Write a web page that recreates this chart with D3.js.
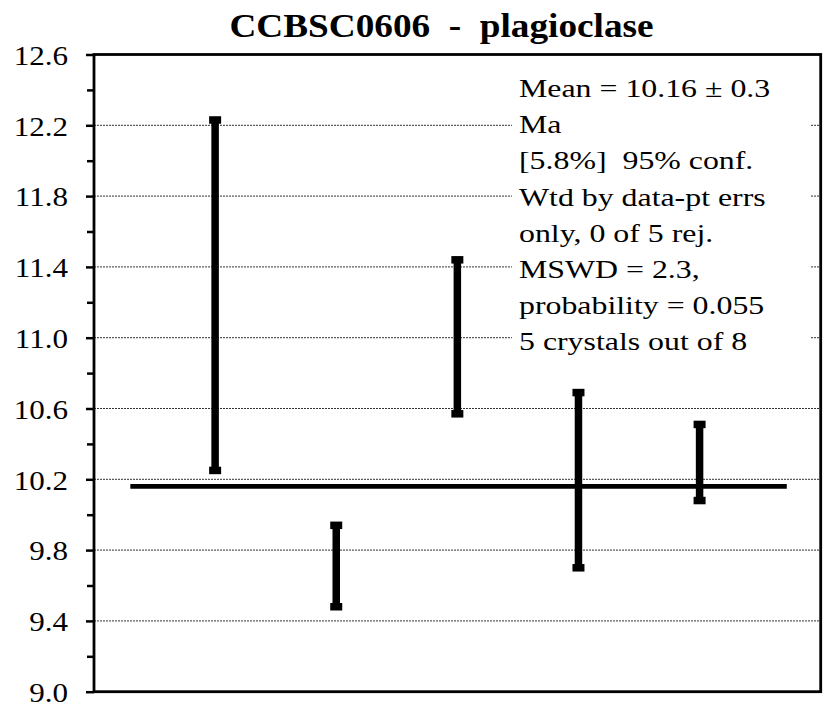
<!DOCTYPE html>
<html>
<head>
<meta charset="utf-8">
<script src="https://cdn.jsdelivr.net/npm/d3@7"></script>
<style>
  html, body { margin: 0; padding: 0; background: #fff; }
  svg { display: block; }
  text { font-family: "Liberation Serif", "Times New Roman", serif; fill: #000; }
</style>
</head>
<body>
<svg id="chart" width="823" height="708"></svg>
<script>
// Weighted-mean plot of plagioclase ages (Ma) with 2-sigma error bars
const crystals = [1, 2, 3, 4, 5];
const lowerAge = [10.25, 9.48, 10.57, 9.70, 10.08];
const upperAge = [12.23, 9.94, 11.44, 10.69, 10.51];
const meanAge = 10.16;
const meanSpan = [0.3, 5.72];
const yMajorTicks = [9.0, 9.4, 9.8, 10.2, 10.6, 11.0, 11.4, 11.8, 12.2, 12.6];
const yMinorTicks = [9.2, 9.6, 10.0, 10.4, 10.8, 11.2, 11.6, 12.0, 12.4];
const titleText = "CCBSC0606  -  plagioclase";
const statsLines = [
  "Mean = 10.16 \u00b1 0.3",
  "Ma",
  "[5.8%]  95% conf.",
  "Wtd by data-pt errs",
  "only, 0 of 5 rej.",
  "MSWD = 2.3,",
  "probability = 0.055",
  "5 crystals out of 8"
];

const svg = d3.select("#chart");
const plot = { left: 94, top: 54.5, right: 820.7, bottom: 691.7 };

const x = d3.scaleLinear().domain([0, 6]).range([plot.left, plot.right]);
const y = d3.scaleLinear().domain([9.0, 12.6]).range([plot.bottom, plot.top]);

// dotted horizontal gridlines
svg.append("g")
  .selectAll("line")
  .data(yMajorTicks.slice(1, -1))
  .join("line")
  .attr("x1", plot.left).attr("x2", plot.right)
  .attr("y1", d => y(d)).attr("y2", d => y(d))
  .attr("stroke", "#333")
  .attr("stroke-width", 1)
  .attr("stroke-dasharray", "2,1");

// white panel behind the statistics text
svg.append("rect")
  .attr("x", 512).attr("y", 62)
  .attr("width", 298).attr("height", 302)
  .attr("fill", "#fff");

// statistics text block
const stats = svg.append("g")
  .attr("transform", "translate(519,97.3) scale(1.3,1)");
stats.selectAll("text")
  .data(statsLines)
  .join("text")
  .attr("x", 0)
  .attr("y", (d, i) => i * 36.1)
  .attr("font-size", 24.5)
  .style("white-space", "pre")
  .text(d => d);

// mean line
svg.append("line")
  .attr("x1", x(meanSpan[0])).attr("x2", x(meanSpan[1]))
  .attr("y1", y(meanAge)).attr("y2", y(meanAge))
  .attr("stroke", "#000")
  .attr("stroke-width", 4.6);

// error bars
const bars = svg.append("g")
  .selectAll("g")
  .data(crystals.map((c, i) => ({ c, lo: lowerAge[i], hi: upperAge[i] })))
  .join("g");

bars.append("line")
  .attr("x1", d => x(d.c)).attr("x2", d => x(d.c))
  .attr("y1", d => y(d.lo)).attr("y2", d => y(d.hi))
  .attr("stroke", "#000")
  .attr("stroke-width", 7.5);

const capW = 12, capH = 7.5;
bars.selectAll("rect")
  .data(d => [{ c: d.c, v: d.lo }, { c: d.c, v: d.hi }])
  .join("rect")
  .attr("x", d => x(d.c) - capW / 2)
  .attr("y", d => y(d.v) - capH / 2)
  .attr("width", capW).attr("height", capH)
  .attr("fill", "#000");

// y axis with major and minor ticks
const yAxis = svg.append("g")
  .attr("transform", `translate(${plot.left},0)`)
  .call(d3.axisLeft(y).tickValues(yMajorTicks).tickSize(8).tickFormat(""));
yAxis.select(".domain").remove();
yAxis.selectAll(".tick line").attr("stroke", "#000").attr("stroke-width", 2.5);

svg.append("g")
  .attr("transform", `translate(${plot.left},0)`)
  .call(d3.axisLeft(y).tickValues(yMinorTicks).tickSize(7).tickFormat(""))
  .call(g => g.select(".domain").remove())
  .call(g => g.selectAll(".tick line").attr("stroke", "#000").attr("stroke-width", 2.5));

// tick labels
svg.append("g")
  .selectAll("text")
  .data(yMajorTicks)
  .join("text")
  .attr("transform", d => `translate(68,${y(d) + 10.3}) scale(1.13,1)`)
  .attr("text-anchor", "end")
  .attr("font-size", 27.5)
  .text(d => d3.format(".1f")(d));

// plot frame
svg.append("rect")
  .attr("x", plot.left).attr("y", plot.top)
  .attr("width", plot.right - plot.left)
  .attr("height", plot.bottom - plot.top)
  .attr("fill", "none")
  .attr("stroke", "#000")
  .attr("stroke-width", 2.8);

// title
svg.append("text")
  .attr("transform", "translate(441.5,36.7) scale(1.08,1)")
  .attr("text-anchor", "middle")
  .attr("font-size", 34.5)
  .attr("font-weight", "bold")
  .style("white-space", "pre")
  .text(titleText);
</script>
</body>
</html>
